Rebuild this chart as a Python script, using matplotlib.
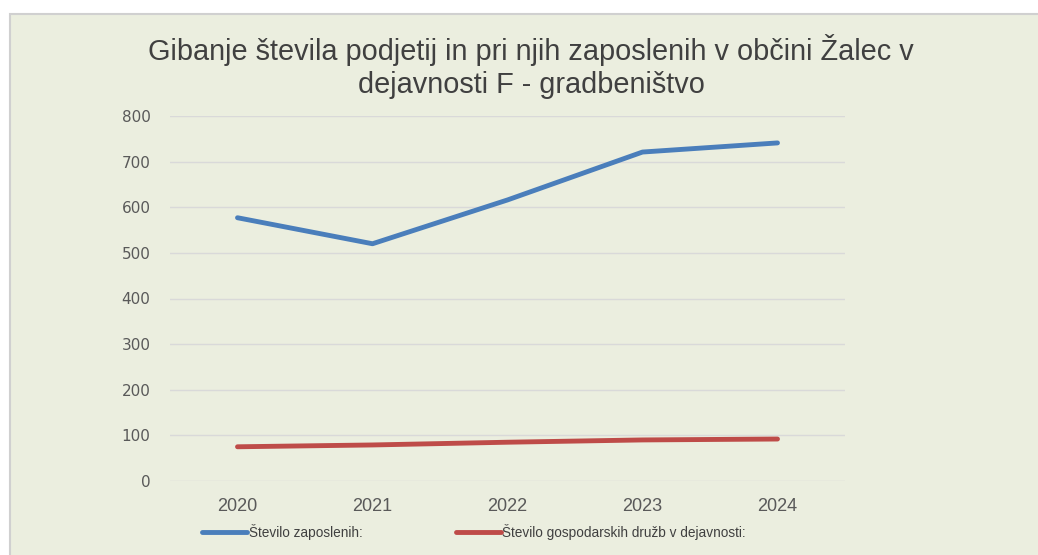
import numpy as np
import matplotlib
matplotlib.use("Agg")
from matplotlib import pyplot as plt
from matplotlib.patches import Rectangle

plt.rcParams['font.family'] = ['Liberation Sans', 'DejaVu Sans']

years = ['2020', '2021', '2022', '2023', '2024']
zaposleni = [577, 520, 616, 721, 741]
druzbe = [75, 79, 85, 90, 92]
y_ticks = [0, 100, 200, 300, 400, 500, 600, 700, 800]

BG = '#EBEEDF'

fig = plt.figure(figsize=(10.38, 5.55), dpi=100)
fig.patch.set_facecolor('white')

# chart area frame (extends past the right/bottom edge)
bg = fig.add_axes([0, 0, 1, 1], zorder=-5)
bg.set_xlim(0, 1038)
bg.set_ylim(555, 0)
bg.axis('off')
bg.add_patch(Rectangle((10, 14), 1100, 600, facecolor=BG,
                       edgecolor='#D0D0D0', linewidth=1.5))

ax = fig.add_axes([170 / 1038, 1 - 481 / 555, (845 - 170) / 1038, (481 - 116) / 555])
ax.set_facecolor('none')
x = np.arange(len(years))
ax.plot(x, zaposleni, color='#4A7EBB', linewidth=3.5, solid_capstyle='round',
        label='Število zaposlenih:')
ax.plot(x, druzbe, color='#BE4B48', linewidth=3.5, solid_capstyle='round',
        label='Število gospodarskih družb v dejavnosti:')

ax.set_xlim(-0.5, len(years) - 0.5)
ax.set_ylim(0, 800)
ax.set_yticks(y_ticks)
ax.set_xticks(x)
ax.set_xticklabels(years)
ax.grid(axis='y', color='#D9D9D9', linewidth=1)
ax.set_axisbelow(True)
for s in ax.spines.values():
    s.set_visible(False)
ax.tick_params(length=0, labelsize=13, colors='#595959', pad=14)
ax.tick_params(axis='x', pad=12)
for lab in ax.get_yticklabels():
    lab.set_fontfamily(['DejaVu Sans'])
    lab.set_fontsize(11)

fig.text(531 / 1038, 1 - 50 / 555, 'Gibanje števila podjetij in pri njih zaposlenih v občini Žalec v',
         ha='center', va='center', fontsize=20.8, color='#404040')
fig.text(531 / 1038, 1 - 85 / 555, 'dejavnosti F - gradbeništvo',
         ha='center', va='center', fontsize=20.8, color='#404040')

leg = fig.legend(loc='center left', bbox_to_anchor=(190 / 1038, 1 - 532 / 555), ncol=2,
                 frameon=False, fontsize=9.8, handlelength=3.3, handletextpad=0.1,
                 columnspacing=6.9, labelcolor='#404040')

fig.savefig('out.png', dpi=100, facecolor=fig.get_facecolor())
